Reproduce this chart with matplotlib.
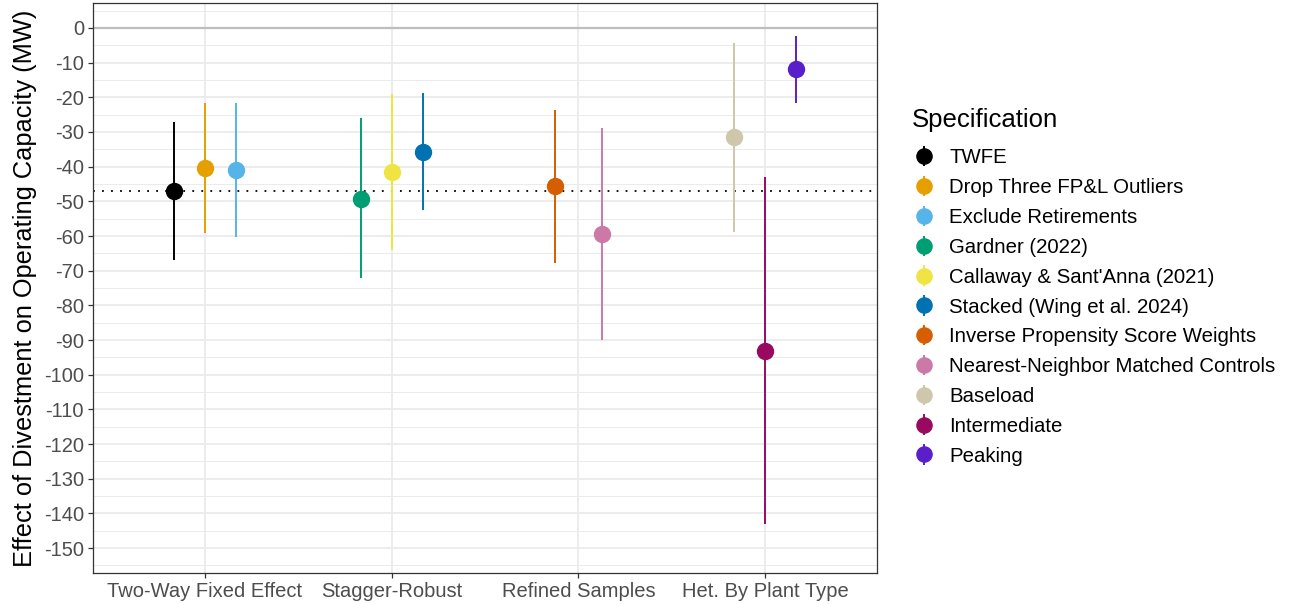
import numpy as np
import matplotlib
matplotlib.use('Agg')
import matplotlib.pyplot as plt
from matplotlib.ticker import FuncFormatter

plt.rcParams['font.family'] = ['Liberation Sans', 'DejaVu Sans']

# estimate groups on the x axis
groups = ['Two-Way Fixed Effect', 'Stagger-Robust', 'Refined Samples', 'Het. By Plant Type']

# one entry per specification
specs = ['TWFE', 'Drop Three FP&L Outliers', 'Exclude Retirements',
         'Gardner (2022)', "Callaway & Sant'Anna (2021)", 'Stacked (Wing et al. 2024)',
         'Inverse Propensity Score Weights', 'Nearest-Neighbor Matched Controls',
         'Baseload', 'Intermediate', 'Peaking']
spec_group = [0, 0, 0, 1, 1, 1, 2, 2, 3, 3, 3]
estimate = [-46.9, -40.5, -41.1, -49.2, -41.4, -35.7, -45.6, -59.5, -31.4, -93.1, -11.9]
ci_low = [-67.0, -59.1, -60.4, -72.2, -63.9, -52.5, -67.7, -90.1, -58.8, -143.2, -21.6]
ci_high = [-27.0, -21.7, -21.7, -26.0, -19.0, -18.8, -23.6, -28.8, -4.2, -43.0, -2.2]
colors = ['#000000', '#E69F00', '#56B4E9', '#009E73', '#F0E442', '#0072B2',
          '#D55E00', '#CC79A7', '#CFC7AB', '#980A5F', '#5A1FCB']

dodge_width = 0.5

fig = plt.figure(figsize=(13.03, 6.04), dpi=100)
ax = fig.add_axes([0.0714, 0.0513, 0.6017, 0.9437])

# dodge positions within each group
x_pos = []
for i, g in enumerate(spec_group):
    members = [j for j, gg in enumerate(spec_group) if gg == g]
    n = len(members)
    k = members.index(i)
    x_pos.append(g + 1 + (k - (n - 1) / 2) * dodge_width / n)

ax.axhline(0, color='#BEBEBE', lw=1.6, zorder=1)
ax.axhline(estimate[0], color='black', lw=1.3, ls=(0, (1, 4)), zorder=1)

for i in range(len(specs)):
    yerr = [[estimate[i] - ci_low[i]], [ci_high[i] - estimate[i]]]
    ax.errorbar(x_pos[i], estimate[i], yerr=yerr, fmt='o', color=colors[i],
                ms=11.5, elinewidth=1.4, capsize=0, label=specs[i], zorder=3)

ax.set_xlim(0.4, 4.6)
ax.set_ylim(-157.2, 7.2)
ax.set_xticks(range(1, len(groups) + 1))
ax.set_xticklabels(groups)
ax.set_yticks(np.arange(-150, 1, 10))
ax.set_yticks(np.arange(-155, 6, 5), minor=True)
ax.yaxis.set_major_formatter(FuncFormatter(lambda v, p: f'{v:.0f}'))
ax.grid(True, which='major', color='#EBEBEB', lw=1.3, zorder=0)
ax.grid(True, which='minor', axis='y', color='#EBEBEB', lw=0.7, zorder=0)
ax.set_axisbelow(True)
ax.tick_params(axis='both', which='major', labelsize=14.5, labelcolor='#4D4D4D',
               color='#333333', length=3.5, width=0.9, pad=3)
ax.tick_params(axis='y', which='minor', length=0)
for s in ax.spines.values():
    s.set_color('#333333')
    s.set_linewidth(0.9)
ax.set_ylabel('Effect of Divestment on Operating Capacity (MW)', fontsize=18.3, labelpad=5)

leg = fig.legend(loc='upper left', bbox_to_anchor=(0.686, 0.852), frameon=False,
                 title='Specification', fontsize=14.7, title_fontsize=18.5,
                 labelspacing=0.53, handlelength=1.2, handletextpad=0.62,
                 markerscale=0.95)
leg._legend_box.align = 'left'
leg._legend_box.sep = 12

fig.savefig('out.png', dpi=100)
